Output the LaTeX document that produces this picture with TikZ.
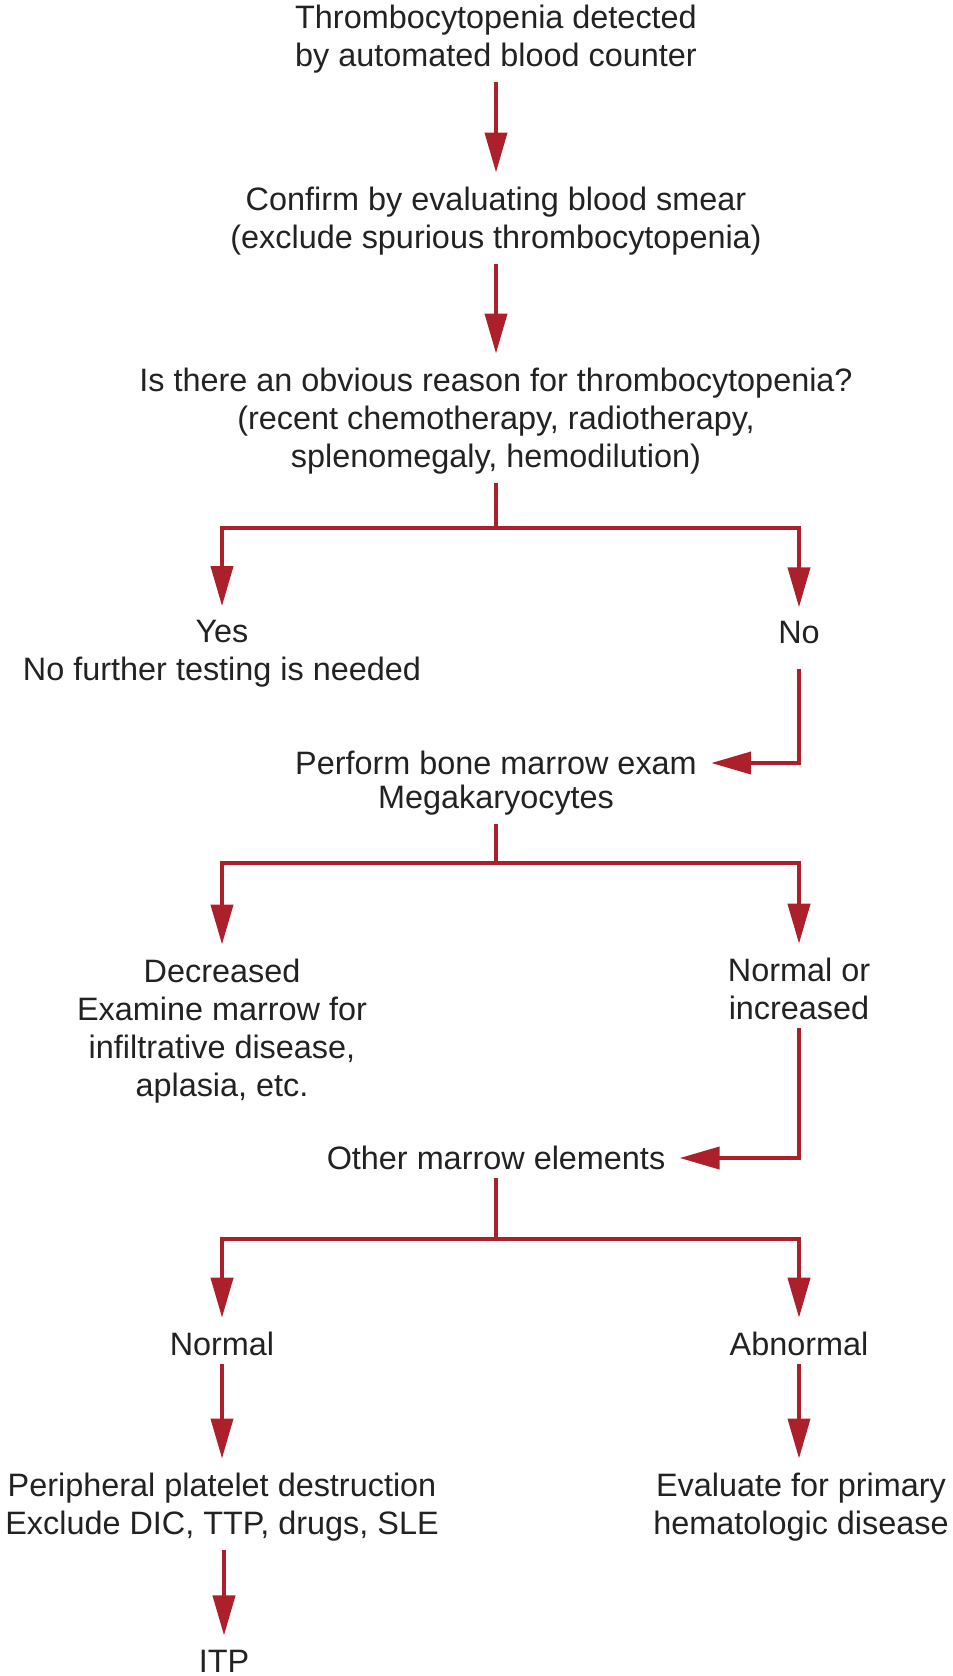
\documentclass[tikz,border=0pt]{standalone}
\usepackage{fontspec}
\setmainfont{Liberation Sans}
\usepackage{tikz}
\usetikzlibrary{arrows.meta,positioning}
\definecolor{flowred}{RGB}{172,32,44}
\definecolor{txtgray}{RGB}{34,34,34}

\begin{document}
\begin{tikzpicture}[
  x=0.5pt, y=-0.5pt,
  txt/.style={align=center, inner sep=3pt, text=txtgray, font=\fontsize{16.2}{19}\selectfont},
  arr/.style={-{Triangle[length=20pt, width=11pt]}, line width=2pt, draw=flowred, shorten <=1pt, shorten >=4pt},
]
  \useasboundingbox (0,0) rectangle (953,1676);

  % Main column
  \node[txt] (detect) at (496,39)  {Thrombocytopenia detected\\by automated blood counter};
  \node[txt] (smear)  at (496,221) {Confirm by evaluating blood smear\\(exclude spurious thrombocytopenia)};
  \node[txt] (reason) at (496,421) {Is there an obvious reason for thrombocytopenia?\\(recent chemotherapy, radiotherapy,\\splenomegaly, hemodilution)};

  % First split
  \node[txt] (yes) at (222,654) {Yes\\No further testing is needed};
  \node[txt] (no)  at (799,633) {No};
  \node[txt] (bone) at (496,763) {Perform bone marrow exam};
  \node[txt] (mega) at (496,800) {Megakaryocytes};

  % Second split
  \node[txt] (decr) at (222,1031) {Decreased\\Examine marrow for\\infiltrative disease,\\aplasia, etc.};
  \node[txt] (incr) at (799,989)  {Normal or\\increased};
  \node[txt] (other) at (496,1158) {Other marrow elements};

  % Third split
  \node[txt] (normal)   at (222,1344) {Normal};
  \node[txt] (abnormal) at (799,1344) {Abnormal};
  \node[txt] (periph) at (222,1507) {Peripheral platelet destruction\\Exclude DIC, TTP, drugs, SLE};
  \node[txt] (primary) at (801,1507) {Evaluate for primary\\hematologic disease};
  \node[txt] (itp) at (224,1661) {ITP};

  % Branch points
  \coordinate (b1) at (496,528);
  \coordinate (b2) at (496,863);
  \coordinate (b3) at (496,1239);

  % Arrows
  \draw[arr] (detect) -- (smear);
  \draw[arr] (smear)  -- (reason);
  \draw[arr] (reason) -- (b1) -| (yes);
  \draw[arr] (reason) -- (b1) -| (no);
  \draw[arr, shorten <=9pt] (no) |- (bone);
  \draw[arr] (mega) -- (b2) -| (decr);
  \draw[arr] (mega) -- (b2) -| (incr);
  \draw[arr] (incr) |- (other);
  \draw[arr] (other) -- (b3) -| (normal);
  \draw[arr] (other) -- (b3) -| (abnormal);
  \draw[arr] (normal) -- (periph);
  \draw[arr] (abnormal) -- (primary.north -| abnormal);
  \draw[arr] (periph.south -| itp) -- (itp);
\end{tikzpicture}
\end{document}
